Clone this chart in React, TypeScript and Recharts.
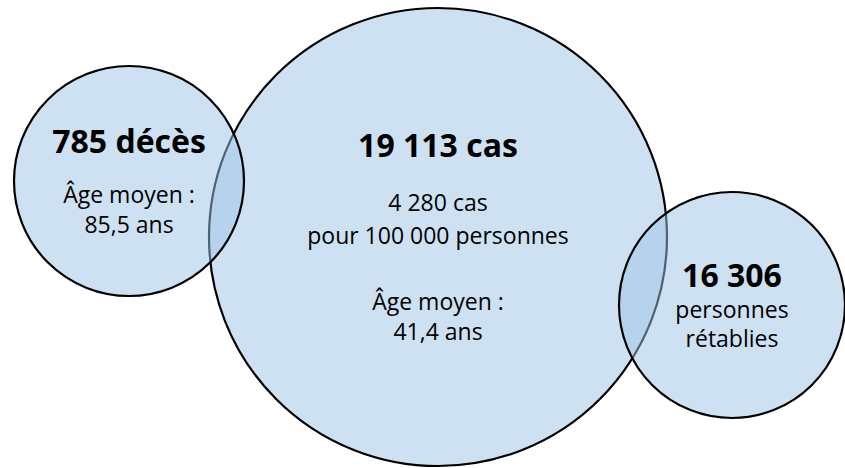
import React from 'react';
import { ScatterChart, Scatter, XAxis, YAxis, ZAxis } from 'recharts';

// ---- data (text content of each bubble) ----
const categories = ['cas', 'décès', 'rétablies'];
const headlines = ['19 113 cas', '785 décès', '16 306'];
const details = [
  ['4 280 cas', 'pour 100 000 personnes', 'Âge moyen :', '41,4 ans'],
  ['Âge moyen :', '85,5 ans'],
  ['personnes', 'rétablies'],
];

// ---- layout (diagram positions in chart units; not data values) ----
const layoutX = [438, 129, 732];
const layoutY = [237, 181, 305];
const layoutR = [229, 115, 113];
const headlineDy = [-80, -28, -18];
const detailDy = [
  [-26, 7, 73, 103],
  [22, 52],
  [13, 42],
];

const W = 845;
const H = 468;
const FONT = '"Open Sans", "Noto Sans", sans-serif';

const rows = categories.map((c, i) => ({
  name: c,
  x: layoutX[i],
  y: layoutY[i],
  area: layoutR[i] * layoutR[i],
  headline: headlines[i],
  lines: details[i],
  hdy: headlineDy[i],
  ddy: detailDy[i],
}));

const CircleShape = (props: any) => {
  const { cx, cy } = props;
  const r = props.width ? props.width / 2 : Math.sqrt((props.size || 0) / Math.PI);
  return (
    <circle
      cx={cx}
      cy={cy}
      r={r}
      fill="#9DC3E6"
      fillOpacity={0.5}
      stroke="#000000"
      strokeWidth={2.2}
    />
  );
};

const LabelShape = (props: any) => {
  const { cx, cy, payload } = props;
  return (
    <g fontFamily={FONT} fill="#000000" textAnchor="middle">
      <text x={cx} y={cy + payload.hdy} fontSize={32} fontWeight={700}>
        {payload.headline}
      </text>
      {payload.lines.map((l: string, j: number) => (
        <text key={j} x={cx} y={cy + payload.ddy[j]} fontSize={23}>
          {l}
        </text>
      ))}
    </g>
  );
};

export default function App() {
  return (
    <div style={{ position: 'absolute', left: 0, top: 0, width: W, height: H, background: '#ffffff' }}>
      <ScatterChart width={W} height={H} margin={{ top: 0, right: 0, bottom: 0, left: 0 }}>
        <XAxis type="number" dataKey="x" domain={[0, W]} hide />
        <YAxis type="number" dataKey="y" domain={[0, H]} reversed hide />
        <ZAxis type="number" dataKey="area" domain={[0, 100000]} range={[0, 100000 * Math.PI]} />
        <Scatter data={rows} shape={<CircleShape />} isAnimationActive={false} />
        <Scatter data={rows} shape={<LabelShape />} isAnimationActive={false} />
      </ScatterChart>
    </div>
  );
}
